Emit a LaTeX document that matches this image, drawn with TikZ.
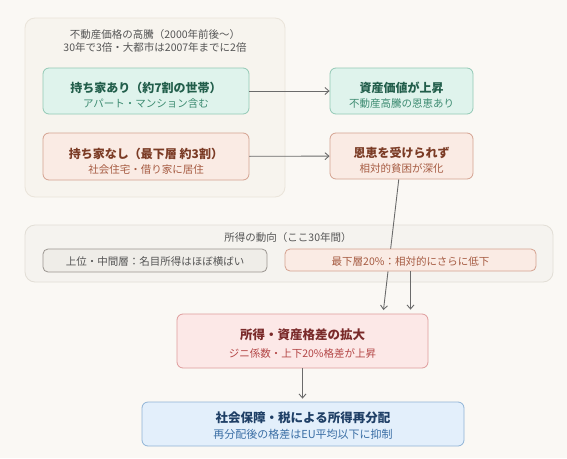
\documentclass[tikz,border=0pt]{standalone}
\usepackage{fontspec}
\setmainfont{Noto Sans CJK JP}
\usetikzlibrary{arrows.meta}
\definecolor{bgc}{HTML}{FAF8F4}
\definecolor{grpf}{HTML}{F7F4EE}
\definecolor{grpd}{HTML}{EAE4DA}
\definecolor{incf}{HTML}{F5F3EF}
\definecolor{incd}{HTML}{E2DED6}
\definecolor{grnf}{HTML}{DFF3EC}
\definecolor{grnd}{HTML}{92C9B5}
\definecolor{grnt}{HTML}{225E4B}
\definecolor{grns}{HTML}{3E8C72}
\definecolor{salf}{HTML}{FAEBE4}
\definecolor{sald}{HTML}{D4A290}
\definecolor{salt}{HTML}{7B3B25}
\definecolor{sals}{HTML}{A65B42}
\definecolor{gryf}{HTML}{EFEDE8}
\definecolor{gryd}{HTML}{9A9590}
\definecolor{gryt}{HTML}{555555}
\definecolor{redf}{HTML}{FCE8E7}
\definecolor{redd}{HTML}{DE9C9C}
\definecolor{redt}{HTML}{7A2A2A}
\definecolor{reds}{HTML}{B34545}
\definecolor{bluf}{HTML}{E3EFFB}
\definecolor{blud}{HTML}{8FB3D6}
\definecolor{blut}{HTML}{1F3F66}
\definecolor{blus}{HTML}{3A6EA5}
\definecolor{arrc}{HTML}{6B6B6B}
\begin{document}
\begin{tikzpicture}[x=1pt,y=-1pt,
  box/.style={draw,rounded corners=6pt,line width=0.8pt,inner sep=0pt},
  grp/.style={draw,rounded corners=10pt,line width=0.8pt,inner sep=0pt},
  ttl/.style={font=\fontsize{12}{14}\selectfont\bfseries,inner sep=0pt},
  sub/.style={font=\fontsize{10.5}{12}\selectfont,inner sep=0pt},
  arr/.style={draw=arrc,line width=0.9pt,-{Straight Barb[length=4pt,width=7pt]}}]
  \fill[bgc] (0,0) rectangle (567,458);
  \useasboundingbox (0,0) rectangle (567,458);
  % top group
  \node[grp,fill=grpf,draw=grpd,minimum width=260pt,minimum height=179pt] (price) at (155,107.5) {};
  \node[sub,text=gryt,align=center,font=\fontsize{10.5}{13}\selectfont] (price-t) at (155,40.5)
    {不動産価格の高騰（2000年前後〜）\\30年で3倍・大都市は2007年までに2倍};
  \node[box,fill=grnf,draw=grnd,minimum width=206pt,minimum height=46pt] (mochi) at (146,91) {};
  \node[ttl,text=grnt] (mochi-t) at (146,88) {持ち家あり（約7割の世帯）};
  \node[sub,text=grns] (mochi-s) at (146,104) {アパート・マンション含む};
  \node[box,fill=salf,draw=sald,minimum width=206pt,minimum height=47pt] (nashi) at (146,156.5) {};
  \node[ttl,text=salt] (nashi-t) at (146,154) {持ち家なし（最下層 約3割）};
  \node[sub,text=sals] (nashi-s) at (146,170) {社会住宅・借り家に居住};
  % right column
  \node[box,fill=grnf,draw=grnd,minimum width=143pt,minimum height=46pt] (shisan) at (401.5,91) {};
  \node[ttl,text=grnt] (shisan-t) at (401.5,88) {資産価値が上昇};
  \node[sub,text=grns] (shisan-s) at (401.5,104) {不動産高騰の恩恵あり};
  \node[box,fill=salf,draw=sald,minimum width=143pt,minimum height=46pt] (onkei) at (401.5,156) {};
  \node[ttl,text=salt] (onkei-t) at (401.5,153) {恩恵を受けられず};
  \node[sub,text=sals] (onkei-s) at (401.5,169) {相対的貧困が深化};
  \draw[arr] (mochi) -- (shisan);
  \draw[arr] (nashi) -- (onkei);
  % income trend
  \node[grp,fill=incf,draw=incd,minimum width=528pt,minimum height=57pt] (income) at (289,253.5) {};
  \node[sub,text=gryt] (income-t) at (288,238) {所得の動向（ここ30年間）};
  \node[box,fill=redf,draw=redd,minimum width=251pt,minimum height=54pt] (kakusa) at (302.5,341) {};
  \coordinate (k1) at (383,314);
  \draw[arr,shorten >=4pt] (onkei) -- (k1);
  \node[box,rounded corners=5pt,fill=gryf,draw=gryd,minimum width=224pt,minimum height=23pt] (upper) at (155,260.5) {};
  \node[sub,text=gryt] (upper-t) at (155,261) {上位・中間層：名目所得はほぼ横ばい};
  \node[box,rounded corners=5pt,fill=salf,draw=sald,minimum width=251pt,minimum height=22pt] (lower) at (410.5,260) {};
  \node[sub,text=sals] (lower-t) at (410.5,261) {最下層20\%：相対的にさらに低下};
  \draw[arr,shorten >=4pt] (lower) -- (lower |- kakusa.north);
  % bottom
  \node[ttl,text=redt,font=\fontsize{12.5}{14}\selectfont\bfseries] (kakusa-t) at (302.5,335) {所得・資産格差の拡大};
  \node[sub,text=reds] (kakusa-s) at (302.5,353) {ジニ係数・上下20\%格差が上昇};
  \node[box,fill=bluf,draw=blud,minimum width=322pt,minimum height=44pt] (bunpai) at (303,424) {};
  \node[ttl,text=blut,font=\fontsize{12.5}{14}\selectfont\bfseries] (bunpai-t) at (303,418) {社会保障・税による所得再分配};
  \node[sub,text=blus,font=\fontsize{11}{12}\selectfont] (bunpai-s) at (303,434) {再分配後の格差はEU平均以下に抑制};
  \draw[arr,shorten >=3pt] (kakusa) -- (kakusa |- bunpai.north);
\end{tikzpicture}
\end{document}
